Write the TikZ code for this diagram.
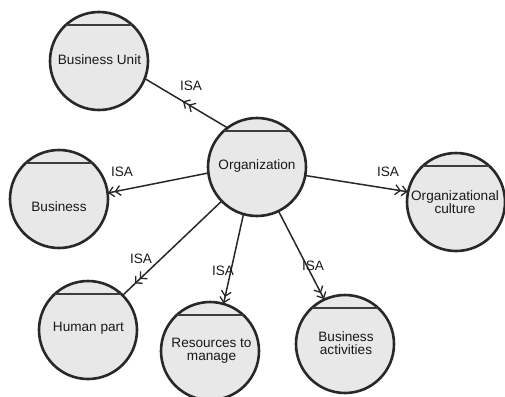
\documentclass[tikz,border=0pt]{standalone}
\usepackage{fontspec}
\setmainfont{Liberation Sans}
\usetikzlibrary{arrows.meta,decorations.markings}
\definecolor{fillg}{RGB}{232,232,232}
\definecolor{edgeg}{RGB}{40,40,40}
\definecolor{chordg}{RGB}{60,60,60}
\begin{document}
\begin{tikzpicture}[x=1pt,y=-1pt,
  entity/.style={circle,draw=edgeg,line width=2.6pt,fill=fillg,minimum size=98pt,inner sep=0pt,outer sep=0pt},
  lbl/.style={font=\fontsize{13.6}{13}\selectfont,align=center,inner sep=0pt,text=black!90},
  isa/.style={font=\fontsize{13.6}{13}\selectfont,inner sep=0pt,text=black!90},
  chord/.style={draw=chordg,line width=1.7pt},
  rel/.style={draw=edgeg,line width=1.5pt,postaction={decorate},
    decoration={markings,mark=at position #1 with {\arrow{Straight Barb[length=5pt,width=10pt,line width=1.3pt] Straight Barb[length=5pt,width=10pt,line width=1.3pt]}}}}]
\useasboundingbox (0,0) rectangle (505,396);

% entities
\node[entity] (bu)  at (99,61)   {};
\node[entity] (org) at (257,167) {};
\node[entity] (bus) at (59,199)  {};
\node[entity] (cul) at (456,202) {};
\node[entity] (hum) at (88,330)  {};
\node[entity] (res) at (210,351) {};
\node[entity] (ba)  at (345,344) {};

% compartment lines
\foreach \n in {bu,org,bus,cul,hum,res,ba}
  \draw[chord] (\n.133) -- (\n.47);

% texts
\node[lbl] (buT)  at (99.5,60)  {Business Unit};
\node[lbl] (orgT) at (257,166)  {Organization};
\node[lbl] (busT) at (59,207)   {Business};
\node[lbl] (culT) at (455,202)  {Organizational\\culture};
\node[lbl] (humT) at (88.5,328) {Human part};
\node[lbl] (resT) at (211.5,351) {Resources to\\manage};
\node[lbl] (baT)  at (346,343)  {Business\\activities};

% relations
\draw[rel=0.54]  (org.127.6) -- (bu.-21.2);
\draw[rel=0.995] (org.187.8) -- (bus.7.8);
\draw[rel=0.995] (org.-10)   -- (cul.168.5);
\draw[rel=0.88]  (org.224.2) -- (hum.45);
\draw[rel=0.995] (org.254.6) -- (res.74.6);
\draw[rel=0.995] (org.296.6) -- (ba.115.6);

% ISA labels
\node[isa] (isa1) at (191,86)  {ISA};
\node[isa] (isa2) at (122,172) {ISA};
\node[isa] (isa3) at (388,172) {ISA};
\node[isa] (isa4) at (141,259) {ISA};
\node[isa] (isa5) at (223,271) {ISA};
\node[isa] (isa6) at (313,266) {ISA};
\end{tikzpicture}
\end{document}
